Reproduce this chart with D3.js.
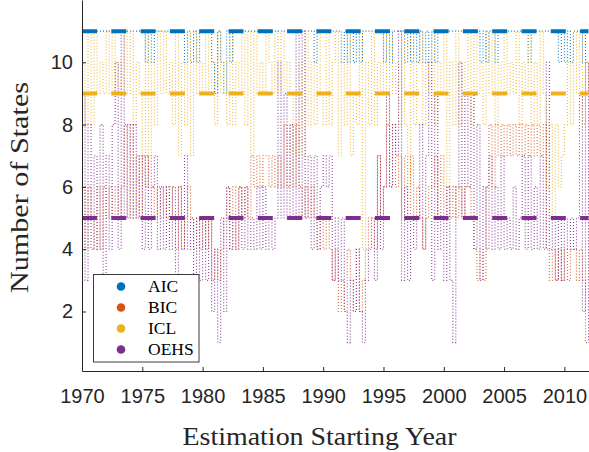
<!DOCTYPE html>
<html><head><meta charset="utf-8">
<script src="https://cdn.jsdelivr.net/npm/d3@7"></script>
<style>body{margin:0;background:#fff} svg{display:block}</style>
</head><body>
<svg id="c" width="589" height="452"></svg>
<script>
// ---- data (quarterly, starting 1970.0) ----
const startYear = 1970, stepYears = 0.25;
const seriesNames = ["AIC", "BIC", "ICL", "OEHS"];
const seriesColors = ["#0072BD", "#D95319", "#EDB120", "#7E2F8E"];
const aic = [
11,11,11,11, 11,11,11,11, 11,11,11,11, 11,11,11,11, 11,11,11,11,
11,10,11,10, 11,11,11,11, 11,11,11,11, 11,11,10,11, 10,11,10,11,
11,11,11,10, 9,11,10,9, 11,10,11,11, 11,11,11,11, 11,11,11,11,
11,11,11,11, 11,11,11,11, 11,11,11,11, 11,11,11,11, 11,10,11,11,
11,11,11,11, 11,11,10,11, 10,11,10,11, 10,11,11,11, 11,11,11,11,
10,11,10,11, 11,11,11,10, 11,10,11,10, 11,10,11,10, 11,10,11,11,
11,11,11,11, 11,11,11,11, 11,11,11,11, 10,11,10,11, 11,10,11,11,
11,11,11,11, 11,11,11,11, 10,11,11,11, 11,11,11,11, 11,11,10,11,
10,11,10,11, 11,11,10,11, 11];
const bic = [
6,4,6,5, 4,6,4,6, 5,6,5,6, 5,6,8,5, 8,5,7,5,
7,6,7,6, 5,6,5,6, 5,6,5,4, 6,4,5,6, 5,4,5,4,
5,4,5,3, 4,3,4,5, 6,4,6,4, 6,5,6,5, 7,6,7,6,
7,7,6,7, 6,7,6,8, 6,8,6,8, 6,5,6,5, 6,5,4,5,
4,5,4,3, 4,2,3,2, 4,3,2,4, 2,3,4,5, 5,4,7,5,
6,8,6,8, 6,7,5,7, 5,7,5,6, 5,4,5,6, 6,7,5,7,
5,6,5,6, 5,6,5,6, 6,5,4,3, 4,3,6,8, 6,8,7,8,
7,8,7,8, 7,8,7,8, 7,8,7,8, 7,8,4,3, 4,3,4,3,
4,3,4,4, 3,4,3,1, 1];
const icl = [
10,8,11,8, 11,9,10,9, 11,9,11,9, 10,9,11,9, 11,8,10,9,
7,11,7,10, 8,11,9,11, 9,10,8,11, 7,10,8,11, 7,11,9,10,
9,11,9,10, 8,11,9,10, 8,11,8,10, 9,11,8,11, 7,11,9,10,
9,11,10,9, 11,9,11,9, 10,9,8,7, 10,7,11,8, 10,8,11,9,
8,11,8,10, 11,7,10,8, 11,7,9,8, 11,4,10,8, 11,8,10,9,
11,8,11,9, 10,8,11,8, 6,11,8,10, 11,8,10,9, 11,8,10,9,
11,6,10,8, 11,8,10,9, 11,8,11,9, 10,8,11,9, 11,8,10,9,
11,9,10,9, 11,8,10,9, 11,8,10,8, 11,9,6,8, 5,8,6,7,
8,10,8,11, 9,11,8,10, 9];
const oehs = [
9,3,8,4, 7,4,8,3, 7,4,8,10, 4,11,5,8, 5,8,5,7,
4,7,4,6, 7,4,6,4, 6,4,6,3, 6,4,7,4, 5,3,5,3,
5,3,5,2, 4,1,5,2, 6,4,5,4, 6,4,6,4, 5,4,6,4,
6,4,5,4, 5,10,5,9, 5,8,5,11, 5,11,5,7, 4,7,4,6,
7,6,7,3, 5,3,5,2, 1,3,2,4, 2,1,3,4, 5,3,7,4,
6,9,6,8, 7,11,3,6, 3,5,4,5, 8,4,7,10, 3,9,4,5,
3,6,3,1, 6,10,5,9, 6,9,4,8, 3,6,4,7, 4,6,4,7,
4,5,4,6, 4,5,7,4, 7,4,6,4, 7,4,10,4, 5,3,5,3,
5,4,5,4, 5,9,2,10, 1];
const seriesValues = [aic, bic, icl, oehs];
// full-sample reference levels (thick dashed lines)
const refNames = ["AIC", "ICL", "OEHS"];
const refLevels = [11, 9, 5];
const xTicks = [1970, 1975, 1980, 1985, 1990, 1995, 2000, 2005, 2010];
const yTicks = [2, 4, 6, 8, 10];

// ---- drawing ----
const svg = d3.select("#c");
const axisColor = "#262626";
const x = d3.scaleLinear().domain([1970, 2012]).range([82, 588.5]);
const y = d3.scaleLinear().domain([0.09, 12]).range([371, 0]);

const line = d3.line()
  .curve(d3.curveStepAfter)
  .x((d, i) => x(startYear + i * stepYears))
  .y(d => y(d));

const plot = svg.append("g");
seriesValues.forEach((vals, k) => {
  plot.append("path")
    .attr("d", line(vals))
    .attr("fill", "none")
    .attr("stroke", seriesColors[k])
    .attr("stroke-width", 1.1)
    .attr("stroke-opacity", 0.9)
    .attr("stroke-dasharray", "1 2");
});

refLevels.forEach((lv, k) => {
  const col = seriesColors[seriesNames.indexOf(refNames[k])];
  plot.append("line")
    .attr("x1", x(1970)).attr("x2", x(2012))
    .attr("y1", y(lv)).attr("y2", y(lv))
    .attr("stroke", col)
    .attr("stroke-width", 4)
    .attr("stroke-dasharray", "15 14.3");
});

// axes
const xAxis = d3.axisBottom(x).tickValues(xTicks).tickFormat(d3.format("d"))
  .tickSizeInner(-4).tickSizeOuter(0).tickPadding(18);
const yAxis = d3.axisLeft(y).tickValues(yTicks).tickFormat(d3.format("d"))
  .tickSizeInner(-4).tickSizeOuter(0).tickPadding(9);

const gx = svg.append("g").attr("transform", "translate(0,371)").call(xAxis);
const gy = svg.append("g").attr("transform", "translate(82,0)").call(yAxis);
[gx, gy].forEach(g => {
  g.select(".domain").attr("stroke", axisColor).attr("stroke-width", 1);
  g.selectAll(".tick line").attr("stroke", axisColor).attr("stroke-width", 1);
  g.selectAll(".tick text").attr("fill", axisColor)
    .style("font-family", "'Liberation Sans', Arial, sans-serif")
    .style("font-size", "20px");
});

// axis titles
svg.append("text")
  .attr("x", 319.5).attr("y", 445)
  .attr("text-anchor", "middle")
  .attr("textLength", 274).attr("lengthAdjust", "spacingAndGlyphs")
  .style("font-family", "'Liberation Serif', 'DejaVu Serif', serif")
  .style("font-size", "25px").attr("fill", axisColor)
  .text("Estimation Starting Year");
svg.append("text")
  .attr("transform", "translate(28,187.5) rotate(-90)")
  .attr("text-anchor", "middle")
  .attr("textLength", 211).attr("lengthAdjust", "spacingAndGlyphs")
  .style("font-family", "'Liberation Serif', 'DejaVu Serif', serif")
  .style("font-size", "25px").attr("fill", axisColor)
  .text("Number of States");

// legend
const lg = svg.append("g");
lg.append("rect").attr("x", 93.5).attr("y", 274.5).attr("width", 105.5).attr("height", 87.5)
  .attr("fill", "#fff").attr("stroke", "#3c3c3c").attr("stroke-width", 1);
seriesNames.forEach((nm, k) => {
  const yy = 286.5 + k * 21;
  lg.append("circle").attr("cx", 121).attr("cy", yy).attr("r", 4.3).attr("fill", seriesColors[k]);
  lg.append("text").attr("x", 148).attr("y", yy + 5.8)
    .style("font-family", "'Liberation Serif', 'DejaVu Serif', serif")
    .style("font-size", "17.5px").attr("fill", "#000")
    .text(nm);
});
</script>
</body></html>
